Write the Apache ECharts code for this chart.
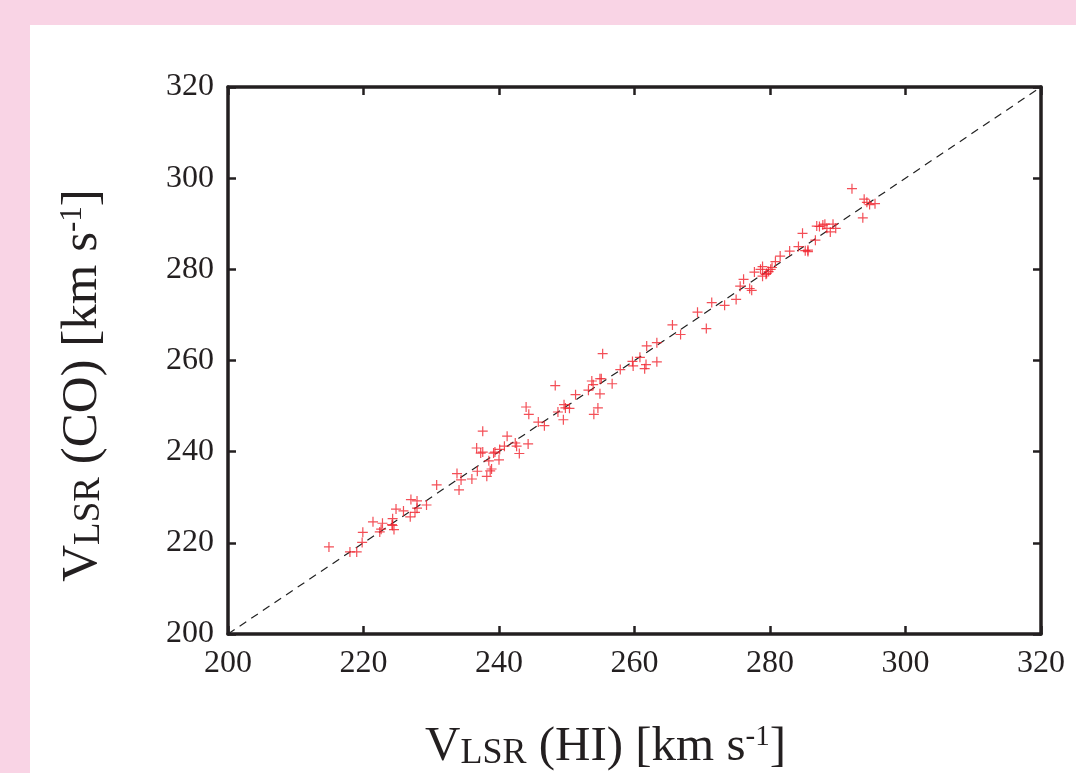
<!DOCTYPE html>
<html>
<head>
<meta charset="utf-8">
<script src="https://cdn.jsdelivr.net/npm/echarts@6/dist/echarts.min.js"></script>
<style>
html,body{margin:0;padding:0;background:#f9d4e5;}
#chart{width:1076px;height:773px;}
</style>
</head>
<body>
<div id="chart"></div>
<script>
// V_LSR (HI) values, km/s
const hiVel = [
  214.9, 218.0, 219.0, 219.9, 219.8, 221.4, 222.6, 222.8, 222.4, 224.3,
  224.2, 224.5, 224.8, 225.9, 226.9, 227.0, 227.9, 227.9, 227.6, 229.3,
  230.8, 233.8, 234.4, 234.1, 236.0, 236.8, 238.2, 238.9, 238.7, 240.0,
  240.1, 238.5, 237.6, 236.7, 237.3, 237.6, 239.2, 239.4, 241.2, 240.8,
  242.4, 242.6, 243.0, 244.3, 244.0, 244.4, 245.8, 246.7,
  255.3, 248.3, 265.6, 263.3, 261.8, 260.8, 259.7, 259.8, 261.7, 261.5,
  263.3, 257.9, 256.7, 254.9, 255.1, 253.7, 253.9, 253.2, 254.9, 251.3,
  249.6, 249.8, 250.4, 248.7, 249.5, 254.6, 254.0,
  266.8, 269.3, 270.6, 271.4, 273.3, 275.0, 275.6, 276.1, 277.0, 277.3,
  277.7, 278.9, 278.9, 279.4, 279.8, 280.3, 280.8, 281.5, 282.9, 285.2,
  285.6, 292.1, 293.9, 294.3, 295.5, 293.7, 284.8, 286.9, 287.3, 287.8,
  288.1, 288.4, 289.3, 289.7, 288.9, 286.7, 284.2, 285.6, 278.6, 280.1,
  279.5, 224.3, 294.7
];
// V_LSR (CO) values, km/s
const coVel = [
  219.1, 218.0, 218.0, 222.3, 220.1, 224.6, 223.0, 224.3, 222.4, 225.3,
  224.0, 222.9, 227.4, 227.0, 225.7, 229.5, 229.2, 227.6, 226.7, 228.3,
  232.7, 235.2, 233.8, 231.6, 234.0, 235.7, 234.6, 236.2, 235.8, 238.2,
  240.5, 238.0, 244.5, 240.8, 239.7, 239.9, 239.7, 239.9, 243.4, 241.2,
  241.9, 241.2, 239.6, 241.7, 249.8, 248.2, 246.5, 245.7,
  261.5, 254.5, 267.8, 263.9, 263.2, 260.7, 259.8, 258.8, 259.1, 258.2,
  259.7, 258.0, 254.9, 256.0, 256.0, 255.5, 254.7, 253.5, 252.7, 252.5,
  250.3, 249.6, 249.5, 248.7, 247.0, 249.6, 248.2,
  265.7, 270.6, 267.0, 272.7, 272.1, 273.4, 276.3, 277.8, 275.8, 275.4,
  279.4, 280.6, 278.5, 278.9, 279.5, 280.4, 281.7, 282.9, 284.0, 284.1,
  284.2, 297.7, 295.4, 294.7, 294.4, 291.3, 287.9, 289.5, 289.4, 289.7,
  289.9, 289.0, 289.9, 289.0, 288.2, 286.4, 285.0, 283.9, 280.0, 280.0,
  279.1, 223.8, 294.2
];
// one-to-one reference line
const refLine = [[200, 200], [320, 320]];
const axisMin = 200, axisMax = 320, axisStep = 20;

const points = hiVel.map((x, i) => [x, coVel[i]]);

const ink = '#231f20';
const serif = '"Liberation Serif", "DejaVu Serif", serif';
function titleRich(f) {
  return {
    v: {fontSize: f, fontFamily: serif, color: ink, lineHeight: f, verticalAlign: 'bottom'},
    s: {fontSize: Math.round(f * 0.73), fontFamily: serif, color: ink, lineHeight: Math.round(f * 0.83), verticalAlign: 'bottom'},
    sup: {fontSize: Math.round(f * 0.6), fontFamily: serif, color: ink, lineHeight: Math.round(f * 0.6), verticalAlign: 'top'}
  };
}

const chart = echarts.init(document.getElementById('chart'));
chart.setOption({
  backgroundColor: '#f9d4e5',
  animation: false,
  graphic: [{
    type: 'rect', z: -10, silent: true,
    shape: {x: 30, y: 25, width: 1100, height: 800},
    style: {fill: '#ffffff'}
  }],
  grid: {left: 228, right: 35, top: 87, bottom: 139, containLabel: false, outerBoundsMode: 'none'},
  xAxis: [{
    type: 'value', min: axisMin, max: axisMax, interval: axisStep,
    position: 'bottom',
    axisLine: {onZero: false, lineStyle: {color: ink, width: 3.5}},
    axisTick: {inside: true, length: 8, lineStyle: {color: ink, width: 2.5}},
    splitLine: {show: false},
    axisLabel: {margin: 14, fontSize: 32, fontFamily: serif, color: ink},
    name: '{v|V}{s|LSR}{v| (HI) [km s}{sup|-1}{v|]}',
    nameLocation: 'middle', nameGap: 89,
    nameTextStyle: {rich: titleRich(49), padding: [0, 58, 0, 0]}
  }, {
    type: 'value', min: axisMin, max: axisMax, interval: axisStep,
    position: 'top',
    axisLine: {onZero: false, lineStyle: {color: ink, width: 3.5}},
    axisTick: {inside: true, length: 8, lineStyle: {color: ink, width: 2.5}},
    axisLabel: {show: false}, splitLine: {show: false}
  }],
  yAxis: [{
    type: 'value', min: axisMin, max: axisMax, interval: axisStep,
    position: 'left',
    axisLine: {onZero: false, lineStyle: {color: ink, width: 3.5}},
    axisTick: {inside: true, length: 8, lineStyle: {color: ink, width: 2.5}},
    splitLine: {show: false},
    axisLabel: {margin: 14, fontSize: 32, fontFamily: serif, color: ink},
    name: '{v|V}{s|LSR}{v| (CO) [km s}{sup|-1}{v|]}',
    nameLocation: 'middle', nameGap: 120,
    nameTextStyle: {rich: titleRich(51), padding: [0, 50, 0, 0]}
  }, {
    type: 'value', min: axisMin, max: axisMax, interval: axisStep,
    position: 'right',
    axisLine: {onZero: false, lineStyle: {color: ink, width: 3.5}},
    axisTick: {inside: true, length: 8, lineStyle: {color: ink, width: 2.5}},
    axisLabel: {show: false}, splitLine: {show: false}
  }],
  series: [{
    type: 'line', data: refLine, symbol: 'none', silent: true,
    lineStyle: {color: '#222', width: 1.2, type: [8, 6]}, z: 1
  }, {
    type: 'scatter', data: points,
    symbol: 'path://M-1,-0.12H1V0.12H-1Z M-0.12,-1H0.12V1H-0.12Z',
    symbolSize: 10,
    itemStyle: {color: '#f0222c'}, z: 2
  }]
});
</script>
</body>
</html>
